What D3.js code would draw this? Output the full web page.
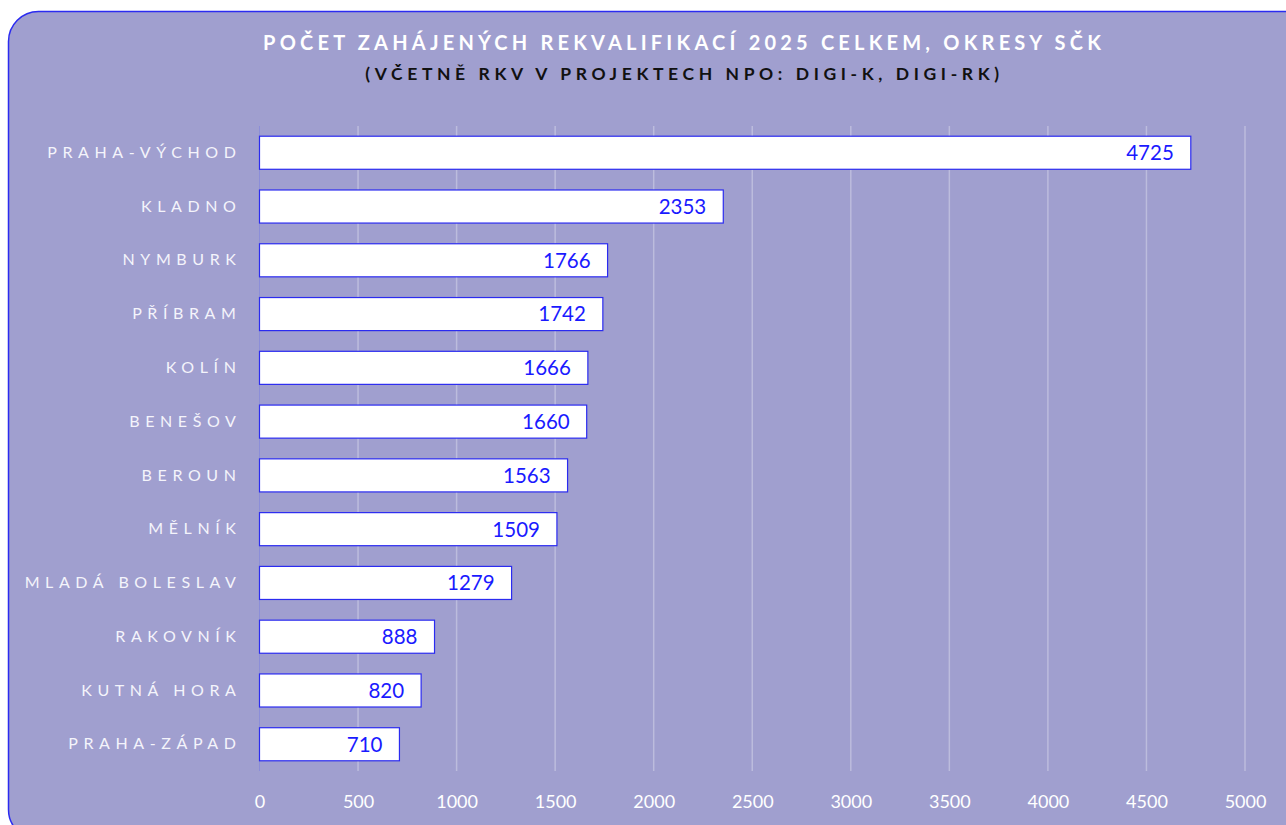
<!DOCTYPE html>
<html>
<head>
<meta charset="utf-8">
<script src="https://cdn.jsdelivr.net/npm/d3@7"></script>
<style>
  html, body { margin: 0; padding: 0; background: #fff; overflow: hidden; }
  svg { display: block; }
  text { font-family: Lato, "Noto Sans", sans-serif; }
</style>
</head>
<body>
<div id="chart"></div>
<script>
// Okresy Středočeského kraje, seřazeno sestupně
const districts = ["PRAHA-VÝCHOD", "KLADNO", "NYMBURK", "PŘÍBRAM", "KOLÍN", "BENEŠOV",
  "BEROUN", "MĚLNÍK", "MLADÁ BOLESLAV", "RAKOVNÍK", "KUTNÁ HORA", "PRAHA-ZÁPAD"];
const retrainings = [4725, 2353, 1766, 1742, 1666, 1660, 1563, 1509, 1279, 888, 820, 710];
const xTicks = [0, 500, 1000, 1500, 2000, 2500, 3000, 3500, 4000, 4500, 5000];

const title = "POČET ZAHÁJENÝCH REKVALIFIKACÍ 2025 CELKEM, OKRESY SČK";
const subtitle = "(VČETNĚ RKV V PROJEKTECH NPO: DIGI-K, DIGI-RK)";

const W = 1286, H = 825;
const margin = { top: 126, right: 41, bottom: 54, left: 259.5 };
const BG = "#a09fcf", BLUE = "#2b2bf0";

const svg = d3.select("#chart").append("svg")
  .attr("width", W).attr("height", H);

// frame — rounded box, runs off the right and bottom edges
svg.append("rect")
  .attr("x", 8.5).attr("y", 11.5).attr("width", 1310).attr("height", 828)
  .attr("rx", 30).attr("fill", BG).attr("stroke", BLUE).attr("stroke-width", 1.5);

// letter-spacing adds a trailing gap, so shift by half of it to stay centred
svg.append("text").attr("x", 682 + 2.1).attr("y", 50).attr("text-anchor", "middle")
  .attr("font-size", 20).attr("font-weight", 700).attr("letter-spacing", 4.2)
  .attr("fill", "#fff").text(title);
svg.append("text").attr("x", 682 + 2.4).attr("y", 80).attr("text-anchor", "middle")
  .attr("font-size", 17.5).attr("font-weight", 700).attr("letter-spacing", 4.6)
  .attr("fill", "#111").text(subtitle);

const x = d3.scaleLinear().domain([0, 5000]).range([margin.left, W - margin.right]);
const y = d3.scaleBand().domain(districts).range([margin.top, H - margin.bottom]).paddingInner(0.385).paddingOuter(0.19);

// gridlines
svg.append("g").selectAll("line").data(xTicks.slice(1)).join("line")
  .attr("x1", d => x(d)).attr("x2", d => x(d))
  .attr("y1", margin.top).attr("y2", H - margin.bottom)
  .attr("stroke", "#fff").attr("stroke-opacity", 0.3).attr("stroke-width", 1.5);
svg.append("line").attr("x1", x(0)).attr("x2", x(0))
  .attr("y1", margin.top).attr("y2", H - margin.bottom)
  .attr("stroke", "#8c8ed8").attr("stroke-width", 1);

// x axis labels
const xAxis = d3.axisBottom(x).tickValues(xTicks).tickFormat(d3.format("d"))
  .tickSize(0).tickPadding(24);
const gx = svg.append("g").attr("transform", `translate(0,${H - margin.bottom})`).call(xAxis);
gx.select(".domain").remove();
gx.selectAll("text").attr("fill", "#fff").attr("font-size", 18)
  .attr("font-family", "Lato, 'Noto Sans', sans-serif");

// category labels
const yAxis = d3.axisLeft(y).tickSize(0).tickPadding(18);
const gy = svg.append("g").attr("transform", `translate(${margin.left},0)`).call(yAxis);
gy.select(".domain").remove();
gy.selectAll("text").attr("fill", "#f4f4fb").attr("font-size", 16)
  .attr("letter-spacing", 5.6)
  .attr("font-family", "Lato, 'Noto Sans', sans-serif");

const rows = districts.map((d, i) => ({ name: d, value: retrainings[i] }));

svg.append("g").selectAll("rect").data(rows).join("rect")
  .attr("x", x(0)).attr("y", d => y(d.name))
  .attr("width", d => x(d.value) - x(0)).attr("height", y.bandwidth())
  .attr("fill", "#fff").attr("stroke", BLUE).attr("stroke-width", 1.2);

svg.append("g").selectAll("text").data(rows).join("text")
  .attr("x", d => x(d.value) - 17).attr("y", d => y(d.name) + y.bandwidth() / 2)
  .attr("dy", "0.36em").attr("text-anchor", "end")
  .attr("font-size", 20.5).attr("fill", "#1a1aff")
  .text(d => d.value);
</script>
</body>
</html>
